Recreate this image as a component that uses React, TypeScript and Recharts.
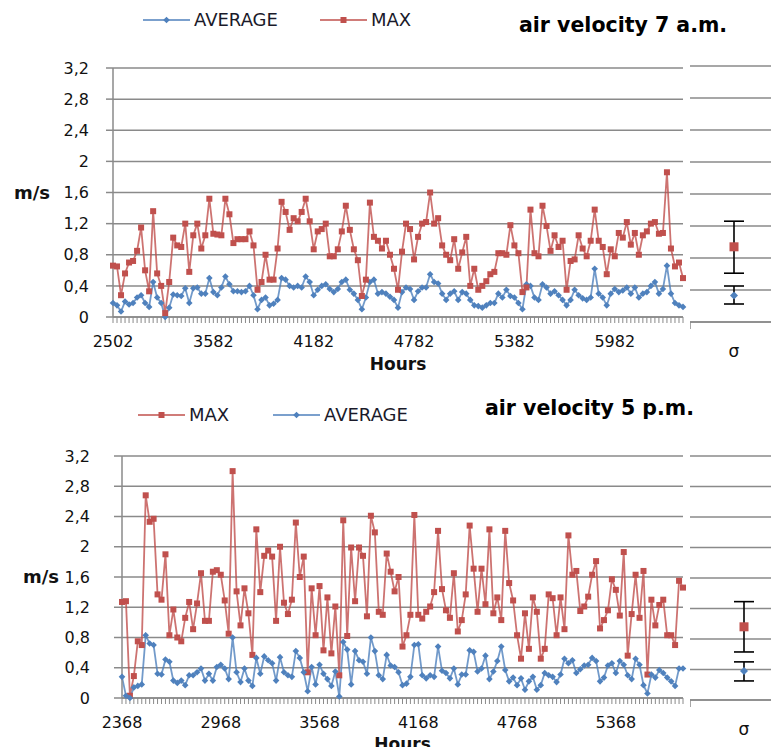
import React from 'react'
import { LineChart, Line, XAxis, YAxis, CartesianGrid, ErrorBar } from 'recharts'

const yTicks = [0, 0.4, 0.8, 1.2, 1.6, 2, 2.4, 2.8, 3.2]
const amHourLabels = ['2502', '3582', '4182', '4782', '5382', '5982']
const pmHourLabels = ['2368', '2968', '3568', '4168', '4768', '5368']
const labelEvery = 25

// 7 a.m. series
const amMax = [
  0.66, 0.65, 0.28, 0.56, 0.7, 0.72, 0.85, 1.15, 0.6, 0.33,
  1.36, 0.56, 0.4, 0.05, 0.45, 1.02, 0.92, 0.9, 1.2, 0.58,
  1.05, 1.2, 0.88, 1.05, 1.52, 1.07, 1.06, 1.05, 1.52, 1.32,
  0.95, 1.0, 1.0, 1.0, 1.1, 0.92, 0.35, 0.45, 0.8, 0.48,
  0.48, 0.88, 1.48, 1.35, 1.12, 1.27, 1.23, 1.35, 1.52, 1.23,
  0.87, 1.1, 1.13, 1.2, 0.78, 0.78, 0.87, 1.1, 1.43, 1.12,
  0.87, 0.73, 0.27, 0.48, 1.47, 1.03, 0.98, 0.88, 0.98, 0.8,
  0.62, 0.35, 0.84, 1.2, 1.13, 0.74, 1.03, 1.2, 1.22, 1.6,
  1.2, 1.27, 0.92, 0.8, 0.73, 1.0, 0.62, 0.83, 1.03, 0.4,
  0.62, 0.35, 0.4, 0.46, 0.55, 0.58, 0.82, 0.82, 0.8, 1.18,
  0.92, 0.82, 0.32, 0.38, 1.38, 0.82, 0.78, 1.43, 1.17, 0.85,
  1.05, 0.9, 0.98, 0.35, 0.72, 0.74, 1.05, 0.88, 0.78, 0.98,
  1.38, 0.98, 0.9, 0.55, 0.87, 0.78, 1.08, 1.02, 1.22, 0.93,
  1.08, 0.8, 1.05, 1.1, 1.2, 1.22, 1.07, 1.08, 1.86, 0.88,
  0.65, 0.7, 0.5,
]
const amAvg = [
  0.18, 0.15, 0.07, 0.2, 0.16, 0.18, 0.25, 0.28, 0.18, 0.13,
  0.45, 0.25, 0.18, 0.0, 0.12, 0.29, 0.28, 0.27, 0.37, 0.18,
  0.37, 0.38, 0.3, 0.3, 0.5, 0.32, 0.28, 0.38, 0.52, 0.42,
  0.33, 0.33, 0.32, 0.33, 0.4, 0.28, 0.1, 0.22, 0.25, 0.15,
  0.17, 0.22, 0.5, 0.48, 0.4, 0.38, 0.4, 0.38, 0.52, 0.45,
  0.28, 0.35, 0.4, 0.42, 0.36, 0.32, 0.36, 0.45, 0.48, 0.35,
  0.3, 0.22, 0.1, 0.25, 0.45, 0.48, 0.3, 0.32, 0.3, 0.26,
  0.22, 0.12, 0.32, 0.38, 0.36, 0.22, 0.33, 0.38, 0.38, 0.55,
  0.45, 0.43, 0.3, 0.22, 0.3, 0.33, 0.22, 0.32, 0.3, 0.22,
  0.15, 0.14, 0.12, 0.15, 0.18, 0.18, 0.3, 0.25, 0.35, 0.27,
  0.25, 0.18, 0.1, 0.42, 0.4, 0.25, 0.22, 0.42, 0.38, 0.3,
  0.33, 0.28, 0.22, 0.15, 0.22, 0.35, 0.28, 0.24, 0.22, 0.25,
  0.62, 0.3, 0.25, 0.15, 0.3, 0.36, 0.32, 0.34, 0.38, 0.3,
  0.38, 0.25, 0.3, 0.32, 0.4, 0.45, 0.3, 0.36, 0.66, 0.3,
  0.18, 0.15, 0.13,
]

// 5 p.m. series
const pmMax = [
  1.27, 1.28, 0.03, 0.29, 0.75, 0.7, 2.68, 2.33, 2.37, 1.37,
  1.3, 1.9, 0.83, 1.17, 0.8, 0.75, 1.06, 1.27, 0.91, 1.25,
  1.65, 1.02, 1.02, 1.67, 1.69, 1.63, 1.29, 0.85, 3.0, 1.41,
  0.96, 1.45, 1.12, 0.57, 2.23, 1.4, 1.88, 1.95, 1.87, 1.02,
  2.0, 1.26, 1.11, 1.3, 2.32, 1.6, 1.87, 0.34, 1.45, 0.83,
  1.48, 0.63, 1.33, 0.59, 1.21, 0.3, 2.35, 0.82, 1.99, 1.28,
  1.99, 1.88, 1.08, 2.41, 2.19, 1.14, 1.1, 1.91, 1.67, 1.41,
  1.6, 0.68, 0.83, 1.1, 2.42, 1.1, 1.05, 1.14, 1.21, 1.4,
  2.21, 1.44, 1.16, 1.06, 1.65, 0.88, 1.03, 1.37, 2.28, 1.71,
  1.14, 1.71, 1.24, 2.23, 1.12, 1.33, 1.03, 2.21, 1.52, 1.29,
  0.83, 0.52, 1.12, 0.65, 1.33, 1.14, 0.52, 0.65, 1.37, 1.32,
  0.83, 1.33, 0.91, 2.15, 1.63, 1.68, 1.15, 1.21, 1.34, 1.63,
  1.81, 0.92, 1.03, 1.16, 1.57, 1.43, 1.09, 1.93, 0.56, 1.11,
  1.63, 1.06, 1.68, 0.31, 1.3, 0.96, 1.23, 1.3, 0.83, 0.83,
  0.7, 1.55, 1.46,
]
const pmAvg = [
  0.28, 0.03, 0.0, 0.14, 0.16, 0.18, 0.83, 0.72, 0.7, 0.32,
  0.31, 0.51, 0.48, 0.23, 0.2, 0.23, 0.17, 0.3, 0.3, 0.34,
  0.39, 0.23, 0.32, 0.23, 0.41, 0.44, 0.39, 0.25, 0.8, 0.34,
  0.21, 0.39, 0.23, 0.16, 0.53, 0.32, 0.55, 0.5, 0.46, 0.23,
  0.54, 0.34, 0.3, 0.28, 0.62, 0.53, 0.34, 0.09, 0.41, 0.18,
  0.44, 0.32, 0.25, 0.16, 0.35, 0.02, 0.74, 0.64, 0.18, 0.62,
  0.5, 0.48, 0.32, 0.8, 0.62, 0.3, 0.25, 0.57, 0.43, 0.41,
  0.34, 0.17, 0.19, 0.28, 0.7, 0.71, 0.3, 0.26, 0.3, 0.28,
  0.68, 0.36, 0.33, 0.26, 0.39, 0.18, 0.31, 0.31, 0.63, 0.61,
  0.35, 0.39, 0.56, 0.25, 0.35, 0.49, 0.68, 0.37, 0.22, 0.27,
  0.17, 0.26, 0.11, 0.22, 0.28, 0.11, 0.17, 0.33, 0.3, 0.28,
  0.21, 0.31, 0.52, 0.46, 0.5, 0.33, 0.38, 0.43, 0.44, 0.53,
  0.49, 0.22, 0.27, 0.43, 0.46, 0.33, 0.49, 0.44, 0.3, 0.25,
  0.52, 0.44, 0.17, 0.06, 0.31, 0.27, 0.37, 0.33, 0.27, 0.22,
  0.16, 0.39, 0.39,
]

// side panels: mean with [lower, upper] standard deviation
const amSigmaMax = 0.94
const amSigmaMaxErr = [0.33, 0.32]
const amSigmaAvg = 0.33
const amSigmaAvgErr = [0.105, 0.12]
const pmSigmaMax = 0.96
const pmSigmaMaxErr = [0.33, 0.33]
const pmSigmaAvg = 0.38
const pmSigmaAvgErr = [0.13, 0.12]

const RED = '#C0504D'
const BLUE = '#4F81BD'
const GRID = '#8a8a8a'
const FONT = '"DejaVu Sans", sans-serif'

const fmt = (v: number) => String(v).replace('.', ',')

const toRows = (max: number[], avg: number[]) => max.map((m, i) => ({ i, max: m, avg: avg[i] }))
const amData = toRows(amMax, amAvg)
const pmData = toRows(pmMax, pmAvg)

function SquareDot(size: number) {
  return (props: any) => {
    const { cx, cy, index } = props
    if (cx == null || cy == null) return <g key={`s${index}`} />
    return <rect key={`s${index}`} x={cx - size / 2} y={cy - size / 2} width={size} height={size} fill={RED} />
  }
}

function DiamondDot(r: number) {
  return (props: any) => {
    const { cx, cy, index } = props
    if (cx == null || cy == null) return <g key={`d${index}`} />
    return (
      <polygon
        key={`d${index}`}
        points={`${cx},${cy - r} ${cx + r},${cy} ${cx},${cy + r} ${cx - r},${cy}`}
        fill={BLUE}
      />
    )
  }
}

type MainProps = {
  data: { i: number; max: number; avg: number }[]
  labels: string[]
  top: number
  plotTop: number
  plotBottom: number
  plotLeft: number
  yTickSize: number
  yTickMargin: number
  msOffset: number
  hoursOffset: number
  maxFirst: boolean
}

function MainChart(p: MainProps) {
  const H = 380
  const ticks = p.data.map((d) => d.i)
  const tickText = (v: number) => (v % labelEvery === 0 ? p.labels[v / labelEvery] ?? '' : '')
  const maxLine = (
    <Line
      key="max"
      dataKey="max"
      stroke={RED}
      strokeOpacity={0.8}
      strokeWidth={1.8}
      dot={SquareDot(6)}
      activeDot={false}
      isAnimationActive={false}
    />
  )
  const avgLine = (
    <Line
      key="avg"
      dataKey="avg"
      stroke={BLUE}
      strokeOpacity={0.8}
      strokeWidth={1.8}
      dot={DiamondDot(3.3)}
      activeDot={false}
      isAnimationActive={false}
    />
  )
  return (
    <div style={{ position: 'absolute', left: 0, top: p.top }}>
      <LineChart
        width={690}
        height={H}
        data={p.data}
        margin={{ top: p.plotTop - p.top, right: 7, bottom: 0, left: 0 }}
      >
        <CartesianGrid vertical={false} stroke={GRID} strokeWidth={1.5} />
        <XAxis
          type="number"
          dataKey="i"
          domain={['dataMin', 'dataMax']}
          ticks={ticks}
          interval={0}
          tickFormatter={tickText}
          height={H - (p.plotBottom - p.top)}
          tickSize={6}
          tickMargin={13}
          axisLine={{ stroke: GRID, strokeWidth: 1.5 }}
          tickLine={{ stroke: GRID, strokeWidth: 1 }}
          tick={{ fill: '#111', fontSize: 16 }}
          label={{ value: 'Hours', position: 'insideBottom', offset: p.hoursOffset, fill: '#111', fontSize: 17, fontWeight: 'bold' }}
        />
        <YAxis
          domain={[0, 3.2]}
          ticks={yTicks}
          interval={0}
          width={p.plotLeft}
          tickFormatter={fmt}
          tickSize={p.yTickSize}
          tickMargin={p.yTickMargin}
          axisLine={{ stroke: GRID, strokeWidth: 1.5 }}
          tickLine={{ stroke: GRID, strokeWidth: 1.5 }}
          tick={{ fill: '#111', fontSize: 16 }}
          label={{ value: 'm/s', position: 'insideLeft', offset: p.msOffset, fill: '#111', fontSize: 18, fontWeight: 'bold' }}
        />
        {p.maxFirst ? [maxLine, avgLine] : [avgLine, maxLine]}
      </LineChart>
    </div>
  )
}

function SigmaTick(props: any) {
  const { x, y, payload } = props
  if (payload.value === 0.5) {
    return (
      <text x={x} y={y + 35} textAnchor="middle" fontSize={17} fill="#111">
        σ
      </text>
    )
  }
  return <line x1={x} y1={y} x2={x} y2={y + 7} stroke={GRID} strokeWidth={1.5} />
}

type SigmaProps = {
  top: number
  width: number
  plotTop: number
  plotBottom: number
  max: number
  maxErr: number[]
  avg: number
  avgErr: number[]
}

function SigmaChart(p: SigmaProps) {
  const H = 380
  const data = [{ x: 0.5, max: p.max, maxErr: p.maxErr, avg: p.avg, avgErr: p.avgErr }]
  return (
    <div style={{ position: 'absolute', left: 690, top: p.top }}>
      <LineChart
        width={p.width}
        height={H}
        data={data}
        margin={{ top: p.plotTop - p.top, right: 1, bottom: 0, left: 0 }}
      >
        <CartesianGrid vertical={false} stroke={GRID} strokeWidth={1.5} />
        <XAxis
          type="number"
          dataKey="x"
          domain={[0, 1]}
          ticks={[0, 0.5, 1]}
          interval={0}
          height={H - (p.plotBottom - p.top)}
          tickSize={0}
          tickMargin={0}
          tickLine={false}
          axisLine={{ stroke: GRID, strokeWidth: 1.5 }}
          tick={<SigmaTick />}
        />
        <YAxis hide domain={[0, 3.2]} ticks={yTicks} interval={0} />
        <Line dataKey="max" stroke="none" dot={SquareDot(9)} activeDot={false} isAnimationActive={false}>
          <ErrorBar dataKey="maxErr" direction="y" width={10} stroke="#000" strokeWidth={1.6} />
        </Line>
        <Line dataKey="avg" stroke="none" dot={DiamondDot(4)} activeDot={false} isAnimationActive={false}>
          <ErrorBar dataKey="avgErr" direction="y" width={10} stroke="#000" strokeWidth={1.6} />
        </Line>
      </LineChart>
    </div>
  )
}

function Key({ left, top, label, color, square }: { left: number; top: number; label: string; color: string; square: boolean }) {
  return (
    <div style={{ position: 'absolute', left, top, display: 'flex', alignItems: 'center', whiteSpace: 'nowrap' }}>
      <svg width={47} height={12} style={{ display: 'block' }}>
        <line x1={0} y1={6} x2={47} y2={6} stroke={color} strokeWidth={1.6} />
        {square ? (
          <rect x={20.5} y={3} width={6} height={6} fill={color} />
        ) : (
          <polygon points="23.5,2.7 26.8,6 23.5,9.3 20.2,6" fill={color} />
        )}
      </svg>
      <span style={{ marginLeft: 4, fontSize: 18, lineHeight: '20px', color: '#1a1a2a' }}>{label}</span>
    </div>
  )
}

function Title({ left, top, text }: { left: number; top: number; text: string }) {
  return (
    <div style={{ position: 'absolute', left, top, fontSize: 20.5, fontWeight: 'bold', lineHeight: '22px', color: '#000', whiteSpace: 'nowrap' }}>
      {text}
    </div>
  )
}

export default function App() {
  return (
    <div
      style={{
        position: 'relative',
        margin: -8,
        width: 779,
        height: 755,
        overflow: 'hidden',
        background: '#fff',
        fontFamily: FONT,
      }}
    >
      <Key left={143} top={10} label="AVERAGE" color={BLUE} square={false} />
      <Key left={320} top={10} label="MAX" color={RED} square />
      <Title left={519} top={14} text="air velocity 7 a.m." />

      <MainChart
        data={amData}
        labels={amHourLabels}
        top={0}
        plotTop={68}
        plotBottom={317}
        plotLeft={113}
        yTickSize={7}
        yTickMargin={17}
        msOffset={14}
        hoursOffset={10}
        maxFirst={false}
      />
      <SigmaChart
        top={0}
        width={89}
        plotTop={66}
        plotBottom={322}
        max={amSigmaMax}
        maxErr={amSigmaMaxErr}
        avg={amSigmaAvg}
        avgErr={amSigmaAvgErr}
      />

      <Key left={138} top={405} label="MAX" color={RED} square />
      <Key left={273} top={405} label="AVERAGE" color={BLUE} square={false} />
      <Title left={485} top={397} text="air velocity 5 p.m." />

      <MainChart
        data={pmData}
        labels={pmHourLabels}
        top={390}
        plotTop={456}
        plotBottom={698}
        plotLeft={122}
        yTickSize={8}
        yTickMargin={24}
        msOffset={23}
        hoursOffset={20}
        maxFirst
      />
      <SigmaChart
        top={390}
        width={109}
        plotTop={456}
        plotBottom={700}
        max={pmSigmaMax}
        maxErr={pmSigmaMaxErr}
        avg={pmSigmaAvg}
        avgErr={pmSigmaAvgErr}
      />
    </div>
  )
}
